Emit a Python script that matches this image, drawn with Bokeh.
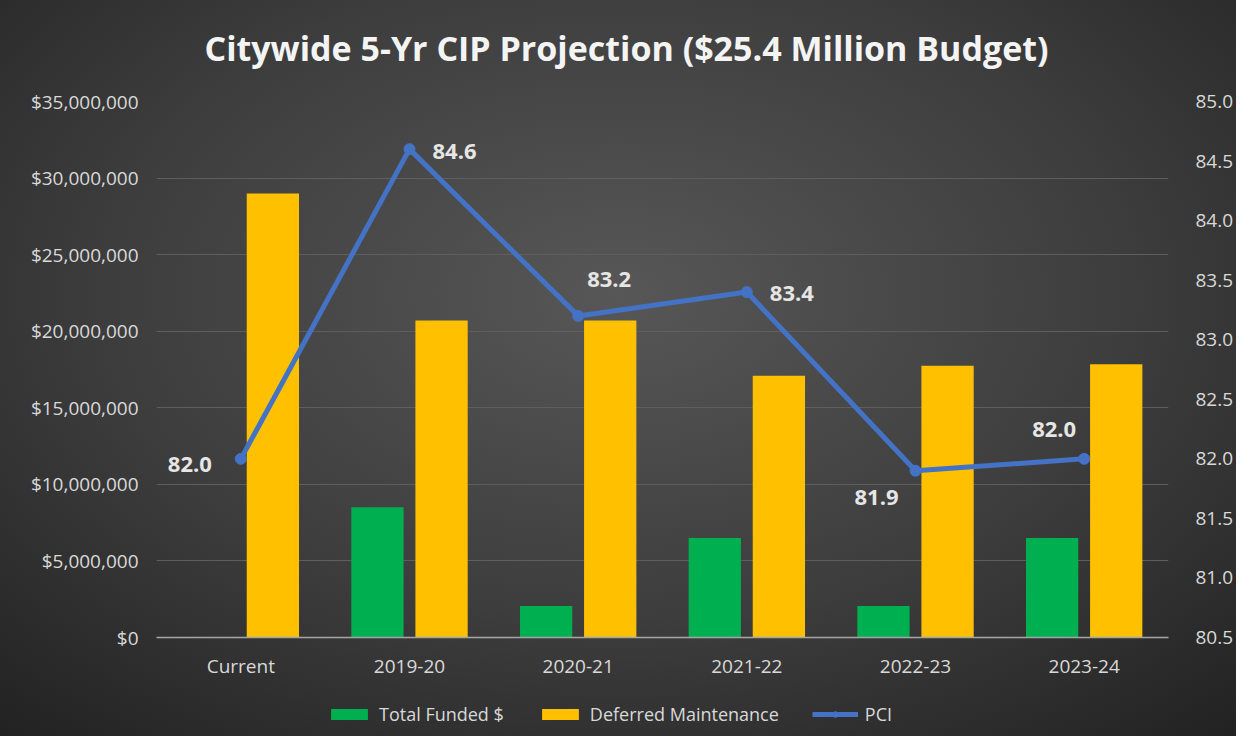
from bokeh.plotting import figure
from bokeh.layouts import column
from bokeh.models import (ColumnDataSource, FactorRange, Range1d, LinearAxis, SingleIntervalTicker,
                          NumeralTickFormatter, Legend, LegendItem, Label)
from bokeh.transform import dodge
from bokeh.core.properties import value
from bokeh.embed import file_html
from bokeh.resources import INLINE

# ---- data ----
categories = ["Current", "2019-20", "2020-21", "2021-22", "2022-23", "2023-24"]
total_funded = [0, 8500000, 2050000, 6500000, 2050000, 6500000]
deferred_maintenance = [29000000, 20700000, 20700000, 17100000, 17750000, 17850000]
pci = [82.0, 84.6, 83.2, 83.4, 81.9, 82.0]
pci_labels = ["82.0", "84.6", "83.2", "83.4", "81.9", "82.0"]
series_names = ["Total Funded $", "Deferred Maintenance", "PCI"]
title_text = "Citywide 5-Yr CIP Projection ($25.4 Million Budget)"

# ---- label styling (screen offsets) ----
label_dx = [-29, 23, 9, 23, -17, -8]
label_dy = [6, 2, -36, 1, 27, -29]
label_align = ["right", "left", "left", "left", "right", "right"]

GREEN = "#00B050"
YELLOW = "#FFC000"
BLUE = "#4472C4"
TXT = "#d9d9d9"
FONT = "Open Sans"
W = 1236

src = ColumnDataSource(dict(cat=categories, funded=total_funded, deferred=deferred_maintenance,
                            pci=pci, lab=pci_labels, dx=label_dx, dy=label_dy, al=label_align))


def strip(height):
    # helper strip: its x range holds only the series names, so the chart data maps nowhere
    f = figure(width=W, height=height, output_backend="svg", toolbar_location=None,
               x_range=FactorRange(*series_names), y_range=Range1d(0, 1),
               min_border=0, x_axis_location=None, y_axis_location=None)
    f.background_fill_alpha = 0
    f.border_fill_alpha = 0
    f.outline_line_color = None
    f.grid.grid_line_color = None
    return f


# ---- title strip ----
tt = strip(80)
tt.add_layout(Label(x=470, y=33, x_units="screen", y_units="screen", text=title_text,
                    text_align="center", text_baseline="middle", text_font=FONT,
                    text_font_size="34px", text_font_style="bold", text_color="#f4f4f4"))

# ---- main chart ----
p = figure(x_range=FactorRange(*categories), y_range=Range1d(0, 35000000),
           width=W, height=606, output_backend="svg", toolbar_location=None,
           min_border_left=156, min_border_right=62, min_border_top=21, min_border_bottom=49)
p.background_fill_alpha = 0
p.border_fill_alpha = 0
p.outline_line_color = None
p.extra_y_ranges = {"pci": Range1d(80.5, 85.0)}

p.vbar(x=dodge("cat", -0.19, range=p.x_range), top="funded", width=0.31, source=src,
       fill_color=GREEN, line_color=None)
p.vbar(x=dodge("cat", 0.19, range=p.x_range), top="deferred", width=0.31, source=src,
       fill_color=YELLOW, line_color=None)
p.line(x="cat", y="pci", source=src, y_range_name="pci", line_color=BLUE, line_width=5,
       line_join="round")
p.scatter(x="cat", y="pci", source=src, y_range_name="pci", size=11, fill_color=BLUE,
          line_color=BLUE)
p.text(x="cat", y="pci", text="lab", source=src, y_range_name="pci", x_offset="dx", y_offset="dy",
       text_align="al", text_baseline="middle", text_font=value(FONT), text_font_size="22px",
       text_font_style="bold", text_color="#e6e6e6")

la = p.yaxis[0]
la.ticker = SingleIntervalTicker(interval=5000000)
la.formatter = NumeralTickFormatter(format="$0,0")
ra = LinearAxis(y_range_name="pci", ticker=SingleIntervalTicker(interval=0.5),
                formatter=NumeralTickFormatter(format="0.0"))
p.add_layout(ra, "right")
for ax in (la, ra):
    ax.axis_line_color = None
    ax.major_tick_line_color = None
    ax.minor_tick_line_color = None
    ax.major_label_text_color = TXT
    ax.major_label_text_font = FONT
    ax.major_label_text_font_size = "19px"
la.major_label_standoff = 12
ra.major_label_standoff = 21

xa = p.xaxis[0]
xa.axis_line_color = "#a6a6a6"
xa.axis_line_width = 1.5
xa.major_tick_line_color = None
xa.minor_tick_line_color = None
xa.major_label_text_color = TXT
xa.major_label_text_font = FONT
xa.major_label_text_font_size = "19px"
xa.major_label_standoff = 9

p.xgrid.grid_line_color = None
p.ygrid.grid_line_color = "#5e5e5e"
p.ygrid.grid_line_width = 1
p.x_range.range_padding = 0
p.x_range.group_padding = 0

# ---- legend strip (same data, mapped outside the strip; swatches only) ----
lg = strip(50)
s1 = lg.vbar(x="cat", top="funded", width=0.3, source=src, fill_color=GREEN, line_color=None)
s2 = lg.vbar(x="cat", top="deferred", width=0.3, source=src, fill_color=YELLOW, line_color=None)
s3 = lg.line(x="cat", y="pci", source=src, line_color=BLUE, line_width=5)
s4 = lg.scatter(x="cat", y="pci", source=src, size=9, fill_color=BLUE, line_color=BLUE)
legend = Legend(items=[LegendItem(label=series_names[0], renderers=[s1]),
                       LegendItem(label=series_names[1], renderers=[s2]),
                       LegendItem(label=series_names[2], renderers=[s3, s4])],
                orientation="horizontal", location=(170, 10), margin=0,
                background_fill_alpha=0, border_line_color=None,
                label_text_color=TXT, label_text_font=FONT, label_text_font_size="18px",
                glyph_width=46, glyph_height=14, label_standoff=7, spacing=33, padding=2)
lg.add_layout(legend, "center")

page = column(tt, p, lg, spacing=0)
page.styles = {"background": "radial-gradient(ellipse 75% 80% at 50% 40%, #575757 0%, #3d3d3d 55%, #222222 100%)"}

open("out.html", "w").write(file_html(page, INLINE))
